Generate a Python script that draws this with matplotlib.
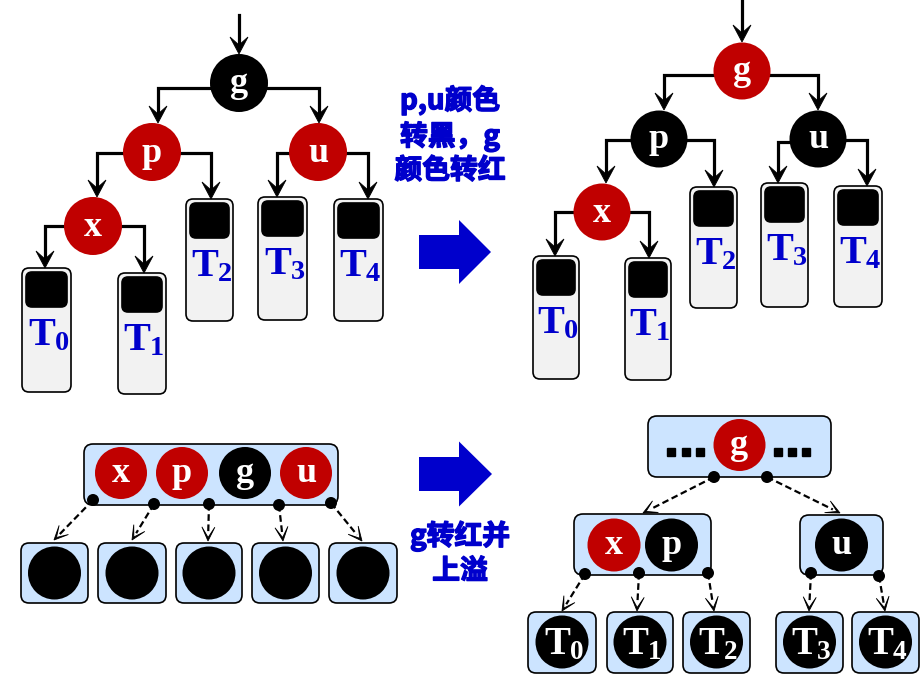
import numpy as np
import matplotlib
matplotlib.use('Agg')
import matplotlib.pyplot as plt
import matplotlib.patheffects as pe
from matplotlib.patches import Circle, FancyBboxPatch, Polygon, FancyArrow

plt.rcParams['mathtext.fontset'] = 'custom'
plt.rcParams['mathtext.rm'] = 'Liberation Serif:bold'
plt.rcParams['mathtext.it'] = 'Liberation Serif:bold'
plt.rcParams['mathtext.bf'] = 'Liberation Serif:bold'

# ---- content ----
tree_keys = ['g', 'p', 'u', 'x']
before_colors = ['black', 'red', 'red', 'red']
after_colors = ['red', 'black', 'black', 'red']
subtrees = ['0', '1', '2', '3', '4']
overflow_keys = ['x', 'p', 'g', 'u']
overflow_colors = ['red', 'red', 'black', 'red']
split_left_keys = ['x', 'p']
split_left_colors = ['red', 'black']
split_right_keys = ['u']
split_right_colors = ['black']
text_top = 'p,u颜色\n转黑，g\n颜色转红'
text_bottom = 'g转红并\n上溢'

RED = '#c00000'
BLUE = '#0000cc'
LBLUE = '#cce4ff'
GRAY = '#f2f2f2'
cmap = {'red': RED, 'black': 'black'}

fig = plt.figure(figsize=(9.21, 6.84), dpi=100)
ax = fig.add_axes([0, 0, 1, 1])
ax.set_xlim(0, 921)
ax.set_ylim(684, 0)
ax.axis('off')

CJK = ['Noto Sans CJK SC', 'DejaVu Sans']
heavy = [pe.withStroke(linewidth=1.0, foreground=BLUE)]


def head(tip, d, L, W, notch, z=5):
    d = np.asarray(d, float)
    d = d / np.hypot(*d)
    n = np.array([-d[1], d[0]])
    t = np.asarray(tip, float)
    pts = [t, t - L * d + W * n, t - (L - notch) * d, t - L * d - W * n]
    ax.add_patch(Polygon(pts, closed=True, fc='black', ec='black', lw=0.6, zorder=z))


def elbow(x0, ly, tx, tip_y):
    L, notch = 17, 8
    ax.plot([x0, tx, tx], [ly, ly, tip_y - L + notch + 1], color='black', lw=2.3,
            solid_joinstyle='miter', zorder=2)
    head((tx, tip_y), (0, 1), L, 9, notch)


def dashed(p0, p1):
    p0 = np.asarray(p0, float)
    p1 = np.asarray(p1, float)
    d = (p1 - p0) / np.hypot(*(p1 - p0))
    end = p1 - 8 * d
    ax.plot([p0[0], end[0]], [p0[1], end[1]], color='black', lw=1.6,
            linestyle=(0, (3, 1.6)), zorder=3)
    head(p1, d, 14, 6.5, 10.5)


def node(x, y, r, key, color, size=26):
    ax.add_patch(Circle((x, y), r, fc=cmap[color], ec='none', zorder=4))
    ax.text(x, y + 1, key, color='white', fontsize=size, fontweight='bold',
            family='Liberation Serif', ha='center', va='center', zorder=6)


def rbox(x0, x1, y0, y1, fc, rs=8, z=1):
    ax.add_patch(FancyBboxPatch((x0, y0), x1 - x0, y1 - y0,
                                boxstyle=f'round,pad=0,rounding_size={rs}',
                                fc=fc, ec='black', lw=1.2, zorder=z))


def tall_subtree(box, label):
    x0, x1, y0, y1 = box
    rbox(x0, x1, y0, y1, GRAY, rs=7)
    rbox(x0 + 4, x1 - 4, y0 + 4, y0 + 39, 'black', rs=6, z=2)
    ax.text((x0 + x1) / 2 + 2, y0 + 66, f'$T_{label}$', color=BLUE, fontsize=29,
            ha='center', va='center', zorder=6)


def block_arrow(x0, x1, cy, hw, hl):
    ax.add_patch(FancyArrow(x0, cy, x1 - x0, 0, width=34, head_width=2 * hw,
                            head_length=hl, length_includes_head=True,
                            fc=BLUE, ec='none', zorder=3))


def rb_tree(cx, cy, colors, r, incoming, edges, boxes):
    ax.plot([cx[0], cx[0]], [incoming[0], incoming[1] - 9], color='black', lw=2.3, zorder=2)
    head((cx[0], incoming[1]), (0, 1), 17, 9, 8)
    for k, c, x, y in zip(tree_keys, colors, cx, cy):
        node(x, y, r, k, c)
    for e in edges:
        elbow(*e)
    for b, lab in zip(boxes, subtrees):
        tall_subtree(b, lab)


# ---- top left tree ----
rb_tree([239, 152, 318, 93], [83, 152, 152, 226], before_colors, 29, (15, 54),
        [(239, 88, 158, 123), (239, 88, 319, 123),
         (152, 153, 97, 197), (152, 153, 211, 199),
         (318, 153, 277, 197), (318, 153, 368, 199),
         (93, 226, 45, 268), (93, 226, 144, 273)],
        [(22, 71, 268, 392), (118, 166, 273, 394), (186, 233, 199, 321),
         (258, 307, 197, 320), (334, 383, 199, 321)])

# ---- top right tree ----
rb_tree([742, 659, 818, 602], [71, 139, 139, 212], after_colors, 28.5, (0, 42),
        [(742, 75, 664, 110), (742, 75, 818, 110),
         (659, 140, 606, 183), (659, 140, 714, 187),
         (818, 142, 778, 183), (818, 140, 867, 186),
         (602, 212, 555, 256), (602, 212, 649, 258)],
        [(533, 579, 256, 379), (625, 671, 258, 380), (690, 737, 187, 308),
         (761, 808, 183, 307), (834, 882, 186, 307)])

block_arrow(419, 491, 252, 32, 32)
ax.text(450, 135, text_top, color=BLUE, fontsize=20, fontweight='bold', family=CJK,
        ha='center', va='center', linespacing=1.25, zorder=6, path_effects=heavy)

# ---- bottom left: overflow node ----
rbox(84, 338, 444, 505, LBLUE, rs=9)
for k, c, x in zip(overflow_keys, overflow_colors, [121, 182, 245, 306]):
    node(x, 473, 26, k, c)
dots_bl = [(93, 500), (154, 504), (209, 504), (279, 505), (331, 503)]
targets_bl = [(54, 540), (132, 540), (208, 541), (283, 541), (362, 541)]
for (bx0, bx1), p0, p1 in zip([(21, 88), (98, 166), (176, 242), (252, 319), (329, 397)],
                              dots_bl, targets_bl):
    rbox(bx0, bx1, 543, 603, LBLUE, rs=8)
    ax.add_patch(Circle(((bx0 + bx1) / 2, 573), 26.5, fc='black', ec='none', zorder=4))
    ax.add_patch(Circle(p0, 6, fc='black', ec='none', zorder=5))
    dashed(p0, p1)

block_arrow(419, 492, 474, 32.5, 33)
ax.text(460, 553, text_bottom, color=BLUE, fontsize=20, fontweight='bold', family=CJK,
        ha='center', va='center', linespacing=1.3, zorder=6, path_effects=heavy)

# ---- bottom right: after split ----
rbox(648, 831, 416, 477, LBLUE, rs=9)
node(739.5, 445, 26, 'g', 'red')
ax.plot([671, 685.5, 700, 778, 792, 806], [452] * 6, linestyle='none', marker='s',
        markersize=5.4, color='black', zorder=5)
for p0, p1 in zip([(714, 477), (767, 477)], [(643, 513), (840, 513)]):
    ax.add_patch(Circle(p0, 6, fc='black', ec='none', zorder=5))
    dashed(p0, p1)

rbox(574, 711, 514, 575, LBLUE, rs=9)
rbox(800, 883, 515, 575, LBLUE, rs=9)
for k, c, x in zip(split_left_keys, split_left_colors, [614, 671.5]):
    node(x, 545, 26.5, k, c)
for k, c, x in zip(split_right_keys, split_right_colors, [841.5]):
    node(x, 545, 26.5, k, c)

dots_br = [(585, 574), (639, 573), (708, 573), (811, 573), (879, 576)]
targets_br = [(562, 611), (637, 611), (714, 611), (809, 611), (885, 611)]
leaf_x = [(528, 596), (607, 673), (683, 750), (776, 843), (852, 919)]
for (bx0, bx1), p0, p1, lab in zip(leaf_x, dots_br, targets_br, subtrees):
    rbox(bx0, bx1, 612, 673, LBLUE, rs=8)
    cx = (bx0 + bx1) / 2
    ax.add_patch(Circle((cx, 642), 26.5, fc='black', ec='none', zorder=4))
    ax.text(cx + 2, 643, f'$T_{lab}$', color='white', fontsize=28,
            ha='center', va='center', zorder=6)
    ax.add_patch(Circle(p0, 6, fc='black', ec='none', zorder=5))
    dashed(p0, p1)

fig.savefig('out.png', dpi=100)
